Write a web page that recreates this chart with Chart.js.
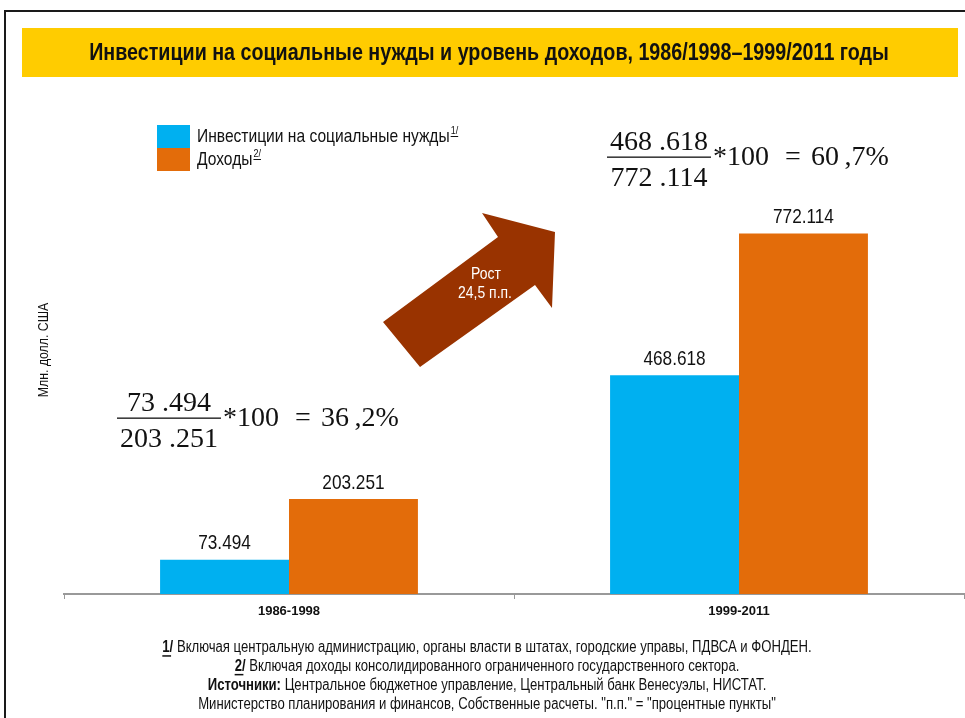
<!DOCTYPE html>
<html>
<head>
<meta charset="utf-8">
<script src="https://cdn.jsdelivr.net/npm/chart.js@4.4.1/dist/chart.umd.min.js"></script>
<style>
  html, body { margin: 0; padding: 0; background: #fff; }
  canvas { display: block; }
</style>
</head>
<body>
<canvas id="invest-canvas" width="965" height="718"></canvas>
<script>
// data
var categories = ["1986-1998", "1999-2011"];
var investValues = [73.494, 468.618];
var incomeValues = [203.251, 772.114];
var seriesNames = ["Инвестиции на социальные нужды", "Доходы"];
var seriesNotes = ["1/", "2/"];
var seriesColors = ["#00B0F0", "#E36C0A"];

var titleText = "Инвестиции на социальные нужды и уровень доходов, 1986/1998–1999/2011 годы";
var yTitle = "Млн. долл. США";
var footLines = [
  [{ t: "1/", b: true, u: true }, { t: " Включая центральную администрацию, органы власти в штатах, городские управы, ПДВСА и ФОНДЕН." }],
  [{ t: "2/", b: true, u: true }, { t: " Включая доходы консолидированного ограниченного государственного сектора." }],
  [{ t: "Источники:", b: true }, { t: " Центральное бюджетное управление, Центральный банк Венесуэлы, НИСТАТ." }],
  [{ t: "Министерство планирования и финансов, Собственные расчеты. \"п.п.\" = \"процентные пункты\"" }],
];

var SANS = '"Liberation Sans", Arial, sans-serif';
var SERIF = '"Liberation Serif", "Times New Roman", serif';
var SQUEEZE = 0.82; // fake "Arial Narrow" look

function fmt(v) {
  return v.toFixed(3);
}
function ratio(a, b) {
  return a / b * 100;
}
function eqNum(v) {
  // equation editor style "468 .618"
  var s = v.toFixed(3).split(".");
  return s[0] + " ." + s[1];
}

// squeezed text, returns drawn width
function narrow(ctx, text, x, y, size, bold, align) {
  ctx.font = (bold ? "bold " : "") + size + "px " + SANS;
  var w = ctx.measureText(text).width * SQUEEZE;
  var x0 = x;
  if (align === "center") x0 = x - w / 2;
  if (align === "right") x0 = x - w;
  ctx.save();
  ctx.translate(x0, y);
  ctx.scale(SQUEEZE, 1);
  ctx.textAlign = "left";
  ctx.textBaseline = "middle";
  ctx.fillText(text, 0, 0);
  ctx.restore();
  return w;
}
function narrowWidth(ctx, text, size, bold) {
  ctx.font = (bold ? "bold " : "") + size + "px " + SANS;
  return ctx.measureText(text).width * SQUEEZE;
}

// a line of mixed bold / underlined pieces, centered on cx
function drawRich(ctx, parts, cx, y, size) {
  var total = 0;
  parts.forEach(function (p) {
    p.w = narrowWidth(ctx, p.t, size, p.b);
    total += p.w;
  });
  var x = cx - total / 2;
  parts.forEach(function (p) {
    narrow(ctx, p.t, x, y, size, p.b, "left");
    if (p.u) {
      ctx.fillRect(x, y + size * 0.45, p.w * 0.8, 1.5);
    }
    x += p.w;
  });
}

function drawFraction(ctx, num, den, val, x, midY) {
  ctx.font = "28px " + SERIF;
  ctx.fillStyle = "#111";
  ctx.textBaseline = "alphabetic";
  var wn = ctx.measureText(num).width;
  var wd = ctx.measureText(den).width;
  var w = Math.max(wn, wd) + 6;
  ctx.textAlign = "center";
  ctx.fillText(num, x + w / 2, midY - 7);
  ctx.fillText(den, x + w / 2, midY + 29);
  ctx.fillRect(x, midY - 0.5, w, 1.3);
  ctx.textAlign = "left";
  ctx.textBaseline = "middle";
  var s = val.toFixed(1).split(".");
  var x0 = x + w + 2;
  ctx.fillText("*100", x0, midY + 1);
  ctx.fillText("=", x0 + 72, midY + 1);
  ctx.fillText(s[0] + "\u2009," + s[1] + "%", x0 + 98, midY + 1);
}

var decorPlugin = {
  id: "decor",
  beforeDraw: function (chart) {
    var ctx = chart.ctx;
    ctx.save();
    ctx.fillStyle = "#fff";
    ctx.fillRect(0, 0, chart.width, chart.height);
    // frame
    ctx.strokeStyle = "#1a1a1a";
    ctx.lineWidth = 2;
    ctx.beginPath();
    ctx.moveTo(5, chart.height);
    ctx.lineTo(5, 11);
    ctx.lineTo(chart.width, 11);
    ctx.stroke();
    // title band
    ctx.fillStyle = "#FFCC00";
    ctx.fillRect(22, 28, 936, 49);
    ctx.fillStyle = "#111";
    narrow(ctx, titleText, 489, 53, 24, true, "center");
    // y axis title
    ctx.save();
    ctx.translate(44, 350);
    ctx.rotate(-Math.PI / 2);
    narrow(ctx, yTitle, 0, 0, 15, false, "center");
    ctx.restore();
    ctx.restore();
  },
  afterDatasetsDraw: function (chart) {
    var ctx = chart.ctx;
    ctx.save();

    // value labels above bars
    ctx.fillStyle = "#111";
    chart.data.datasets.forEach(function (ds, i) {
      chart.getDatasetMeta(i).data.forEach(function (bar, j) {
        narrow(ctx, fmt(ds.data[j]), bar.x, bar.y - 16, 21, false, "center");
      });
    });

    // legend
    seriesNames.forEach(function (name, i) {
      var y = 125 + i * 23;
      ctx.fillStyle = seriesColors[i];
      ctx.fillRect(157, y, 33, 23);
      ctx.fillStyle = "#111";
      var w = narrow(ctx, name, 197, y + 12, 19, false, "left");
      var wn = narrow(ctx, seriesNotes[i], 197 + w + 1, y + 6, 11, false, "left");
      ctx.fillRect(197 + w + 1, y + 11, wn, 1);
    });

    // ratio formulas
    var r0 = ratio(investValues[0], incomeValues[0]);
    var r1 = ratio(investValues[1], incomeValues[1]);
    drawFraction(ctx, eqNum(investValues[0]), eqNum(incomeValues[0]), r0, 117, 418);
    drawFraction(ctx, eqNum(investValues[1]), eqNum(incomeValues[1]), r1, 607, 157);

    // growth arrow
    ctx.fillStyle = "#993300";
    ctx.beginPath();
    ctx.moveTo(383, 322);
    ctx.lineTo(498, 237);
    ctx.lineTo(482, 213);
    ctx.lineTo(555, 232);
    ctx.lineTo(552, 308);
    ctx.lineTo(535, 285);
    ctx.lineTo(420, 367);
    ctx.closePath();
    ctx.fill();
    var growth = Number(r1.toFixed(1)) - Number(r0.toFixed(1));
    ctx.fillStyle = "#fff";
    narrow(ctx, "Рост", 486, 274, 17, false, "center");
    narrow(ctx, growth.toFixed(1).replace(".", ",") + " п.п.", 485, 293, 17, false, "center");

    // footnotes
    ctx.fillStyle = "#111";
    footLines.forEach(function (parts, i) {
      drawRich(ctx, parts, 487, 648 + i * 18.7, 16);
    });
    ctx.restore();
  },
};

new Chart(document.getElementById("invest-canvas"), {
  type: "bar",
  data: {
    labels: categories,
    datasets: [
      {
        label: seriesNames[0],
        data: investValues,
        backgroundColor: seriesColors[0],
        borderWidth: 0,
      },
      {
        label: seriesNames[1],
        data: incomeValues,
        backgroundColor: seriesColors[1],
        borderWidth: 0,
      },
    ],
  },
  options: {
    responsive: false,
    animation: false,
    categoryPercentage: 0.573,
    barPercentage: 1,
    layout: {
      padding: { left: 64, right: 1, top: 127, bottom: 94 },
    },
    plugins: {
      legend: { display: false },
      tooltip: { enabled: false },
      title: { display: false },
    },
    scales: {
      x: {
        grid: {
          display: true,
          drawOnChartArea: false,
          drawTicks: true,
          tickLength: 5,
          color: "#999",
          offset: true,
        },
        border: { display: true, color: "#999", width: 2 },
        ticks: {
          color: "#111",
          padding: 5,
          font: { family: SANS, size: 13, weight: "bold" },
        },
        afterFit: function (scale) {
          scale.height = 30;
        },
      },
      y: {
        display: false,
        min: 0,
        max: 1000,
      },
    },
  },
  plugins: [decorPlugin],
});
</script>
</body>
</html>
